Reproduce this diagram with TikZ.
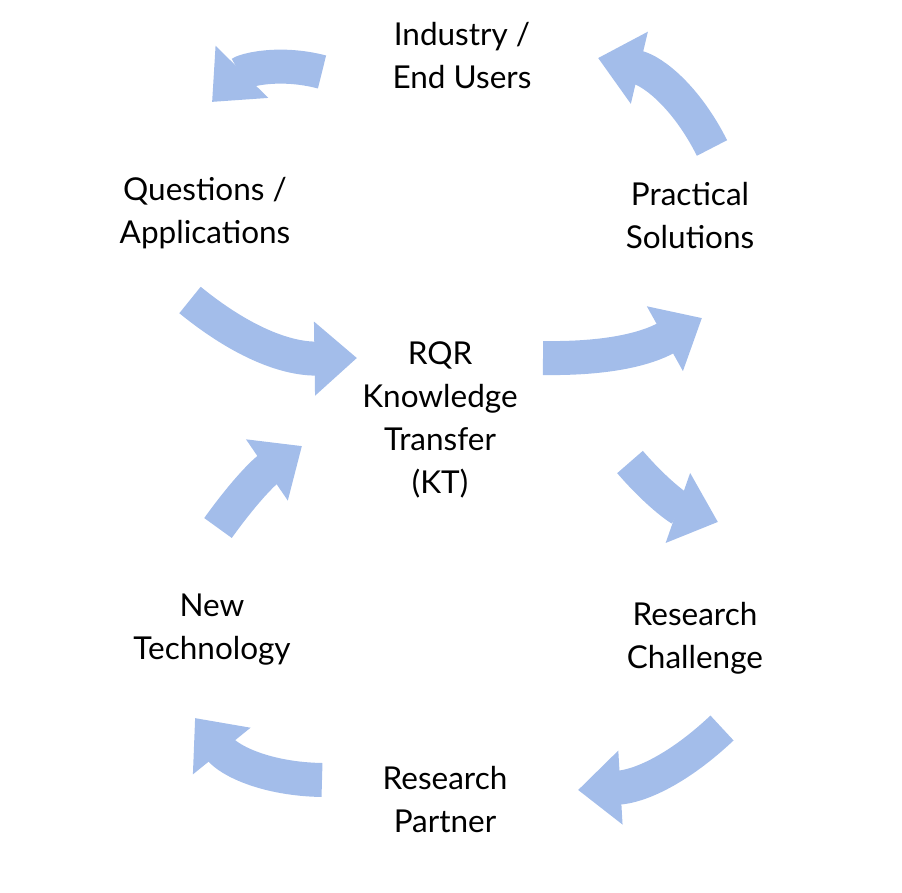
\documentclass[tikz,border=0pt]{standalone}
\usepackage{fontspec}
\setmainfont{Lato}
\usetikzlibrary{arrows.meta}
\definecolor{arr}{HTML}{A3BDEA}
\begin{document}
\begin{tikzpicture}[x=1pt,y=-1pt,
  lbl/.style={align=center,font=\fontsize{31.5}{43}\selectfont},
  barrow/.style={draw=arr,line width=34pt,-{Triangle[width=0pt 2.1,length=0pt 1.25]}},
  ]
\useasboundingbox (0,0) rectangle (902,893);
\node[lbl] (ind) at (462,56) {Industry /\\End Users};
\node[lbl] (que) at (205,213) {Questions /\\Applications};
\node[lbl] (pra) at (690,216) {Practical\\Solutions};
\node[lbl] (rqr) at (440,420) {RQR\\Knowledge\\Transfer\\(KT)};
\node[lbl] (rc) at (695,638) {Research\\Challenge};
\node[lbl] (rp) at (445,800) {Research\\Partner};
\node[lbl] (nt) at (212,630) {New\\Technology};
\coordinate (a1s) at (322,72);  \coordinate (a1e) at (212,102);
\coordinate (a2s) at (712,148); \coordinate (a2e) at (598,58);
\coordinate (a3s) at (190,300); \coordinate (a3e) at (357,358);
\coordinate (a4s) at (543,358); \coordinate (a4e) at (702,318);
\coordinate (a5s) at (630,462); \coordinate (a5e) at (718,522);
\coordinate (a6s) at (722,728); \coordinate (a6e) at (578,790);
\coordinate (a7s) at (322,780); \coordinate (a7e) at (195,718);
\coordinate (a8s) at (218,528); \coordinate (a8e) at (302,446);
\draw[barrow] (a1s) to[bend right=30] (a1e);
\draw[barrow] (a2s) to[bend right=25] (a2e);
\draw[barrow] (a3s) to[bend right=20] (a3e);
\draw[barrow] (a4s) to[bend right=15] (a4e);
\draw[barrow] (a5s) to[bend right=15] (a5e);
\draw[barrow] (a6s) to[bend left=20] (a6e);
\draw[barrow] (a7s) to[bend left=25] (a7e);
\draw[barrow] (a8s) to[bend left=10] (a8e);
\end{tikzpicture}
\end{document}
